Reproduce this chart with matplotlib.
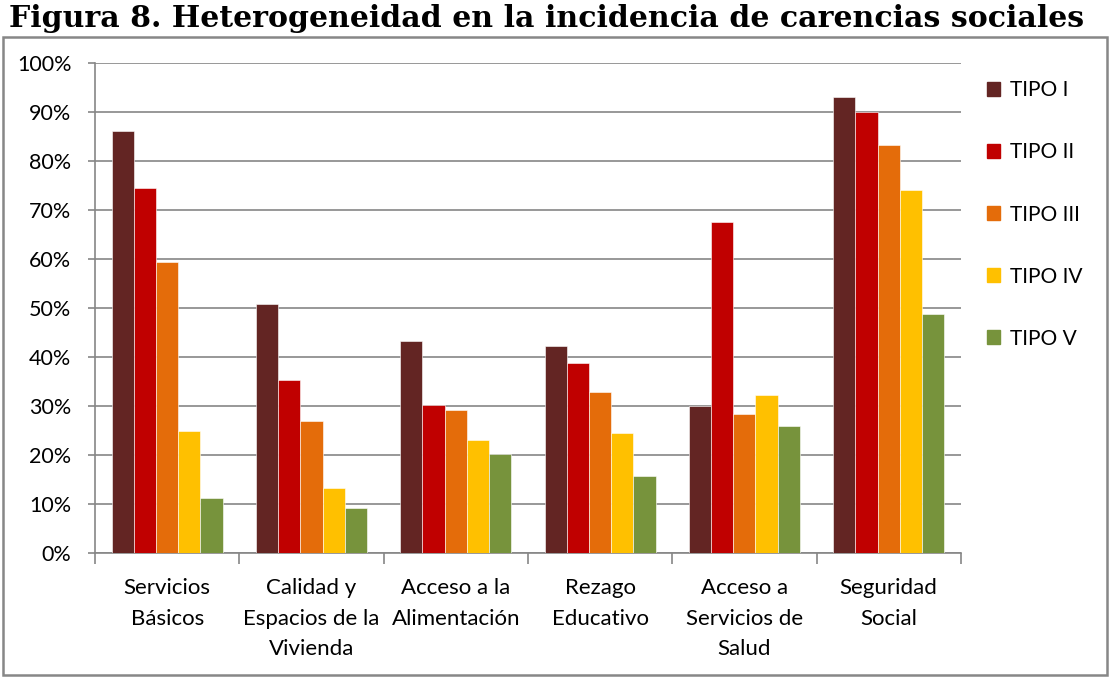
import numpy as np
import matplotlib.pyplot as plt
from matplotlib.patches import Rectangle, Patch
from matplotlib.ticker import FixedLocator, PercentFormatter

# Data (fraction of population, %)
categories = ['Servicios\nBásicos', 'Calidad y\nEspacios de la\nVivienda',
              'Acceso a la\nAlimentación', 'Rezago\nEducativo',
              'Acceso a\nServicios de\nSalud', 'Seguridad\nSocial']
series_names = ['TIPO I', 'TIPO II', 'TIPO III', 'TIPO IV', 'TIPO V']
tipo_1 = [86.1, 50.9, 43.3, 42.3, 30.0, 93.2]
tipo_2 = [74.6, 35.4, 30.3, 38.8, 67.6, 90.1]
tipo_3 = [59.5, 27.1, 29.3, 33.0, 28.4, 83.3]
tipo_4 = [24.9, 13.3, 23.1, 24.5, 32.3, 74.2]
tipo_5 = [11.3, 9.3, 20.2, 15.8, 25.9, 48.9]
colors = ['#632523', '#C00000', '#E46C0A', '#FFC000', '#77933C']

plt.rcParams['font.family'] = ['Lato', 'DejaVu Sans']

fig = plt.figure(figsize=(11.1, 6.77), dpi=100)
ax = fig.add_axes([0.0856, 0.1827, 0.78, 0.7238])

x = np.arange(len(categories))
w = 0.154
for i, (vals, name) in enumerate(zip([tipo_1, tipo_2, tipo_3, tipo_4, tipo_5], series_names)):
    ax.bar(x + (i - 2) * w, vals, width=w, color=colors[i], label=name,
           edgecolor='white', linewidth=0.4, zorder=3)

ax.set_xlim(-0.5, len(categories) - 0.5)
ax.set_ylim(0, 100)
ax.set_yticks(np.arange(0, 101, 10))
ax.yaxis.set_major_formatter(PercentFormatter(decimals=0))
ax.grid(axis='y', color='#868686', linewidth=1.2, zorder=0)

ax.xaxis.set_major_locator(FixedLocator(np.arange(-0.5, len(categories), 1)))
ax.xaxis.set_major_formatter(plt.NullFormatter())
ax.set_xticks(x, minor=True)
ax.set_xticklabels(categories, minor=True, fontsize=16, linespacing=1.66)
ax.tick_params(axis='x', which='minor', length=0, pad=18)
ax.tick_params(axis='x', which='major', length=8, color='#868686', width=1.2)
ax.tick_params(axis='y', length=5, color='#868686', width=1.2, labelsize=15.5, pad=12)

for s in ['top', 'right']:
    ax.spines[s].set_visible(False)
for s in ['left', 'bottom']:
    ax.spines[s].set_color('#868686')
    ax.spines[s].set_linewidth(1.2)

handles = [Patch(color=c, label=n) for c, n in zip(colors, series_names)]
fig.legend(handles=handles, loc='upper left', bbox_to_anchor=(0.872, 0.909),
           frameon=False, fontsize=15, labelspacing=2.02,
           handlelength=0.65, handleheight=0.65, handletextpad=0.45)

fig.patches.append(Rectangle((3 / 1110, 2 / 677), 1104 / 1110, 638 / 677,
                             transform=fig.transFigure, fill=False,
                             edgecolor='#878787', linewidth=1.8))

fig.text(0.4923, 0.972, 'Figura 8. Heterogeneidad en la incidencia de carencias sociales',
         ha='center', va='center', fontsize=21.6, fontweight='bold',
         family='DejaVu Serif')

fig.savefig('out.png', dpi=100)
